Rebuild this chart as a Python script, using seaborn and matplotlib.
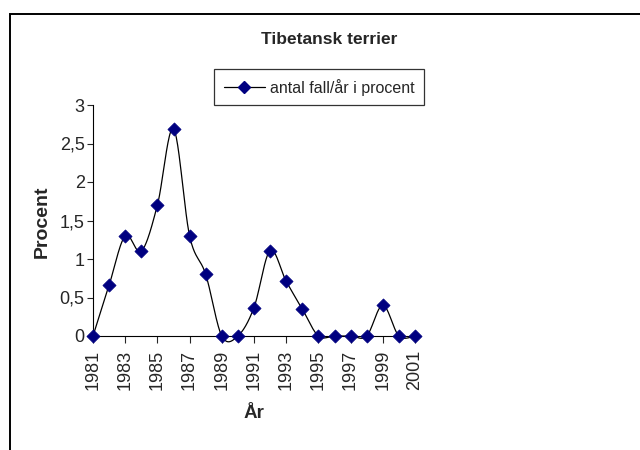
import numpy as np
import matplotlib
matplotlib.use('Agg')
import matplotlib.pyplot as plt
import matplotlib.patches as mpatches
from matplotlib.lines import Line2D
from matplotlib.ticker import FuncFormatter
import seaborn as sns

sns.set_style('white')
plt.rcParams['font.family'] = ['Liberation Sans', 'DejaVu Sans']

NAVY = '#000080'

# ── data ─────────────────────────────────────────────
years = [1981, 1982, 1983, 1984, 1985, 1986, 1987, 1988, 1989, 1990, 1991,
         1992, 1993, 1994, 1995, 1996, 1997, 1998, 1999, 2000, 2001]
procent = [0, 0.66, 1.30, 1.10, 1.70, 2.69, 1.30, 0.80, 0, 0, 0.37,
           1.11, 0.71, 0.35, 0, 0, 0, 0, 0.40, 0, 0]
x_labels = list(range(1981, 2002, 2))
y_ticks = [0, 0.5, 1, 1.5, 2, 2.5, 3]


def smooth(xs, ys, n=24):
    # Excel-style smoothed line (Bezier with 1/6 control points)
    xs = np.asarray(xs, float)
    ys = np.asarray(ys, float)
    px = np.concatenate([[xs[0]], xs, [xs[-1]]])
    py = np.concatenate([[ys[0]], ys, [ys[-1]]])
    out_x, out_y = [], []
    t = np.linspace(0, 1, n)
    for i in range(1, len(px) - 2):
        p0x, p1x, p2x, p3x = px[i - 1:i + 3]
        p0y, p1y, p2y, p3y = py[i - 1:i + 3]
        c1x, c1y = p1x + (p2x - p0x) / 6, p1y + (p2y - p0y) / 6
        c2x, c2y = p2x - (p3x - p1x) / 6, p2y - (p3y - p1y) / 6
        bx = (1 - t)**3 * p1x + 3 * (1 - t)**2 * t * c1x + 3 * (1 - t) * t**2 * c2x + t**3 * p2x
        by = (1 - t)**3 * p1y + 3 * (1 - t)**2 * t * c1y + 3 * (1 - t) * t**2 * c2y + t**3 * p2y
        out_x.extend(bx)
        out_y.extend(by)
    return np.array(out_x), np.array(out_y)


fig = plt.figure(figsize=(6.4, 4.5), dpi=100)
ax = fig.add_axes([93 / 640, 114 / 450, 322 / 640, 231 / 450])

sx, sy = smooth(years, procent)
sns.lineplot(x=sx, y=sy, ax=ax, color='black', linewidth=0.9, sort=False,
             estimator=None, clip_on=False)
sns.scatterplot(x=years, y=procent, ax=ax, marker='D', s=45, color=NAVY,
                edgecolor=NAVY, linewidth=0.5, clip_on=False, zorder=5)

ax.set_xlim(1981, 2001)
ax.set_ylim(0, 3)
ax.set_xticks(x_labels)
ax.set_xticklabels([str(y) for y in x_labels], rotation=90, fontsize=13)
ax.set_yticks(y_ticks)
ax.yaxis.set_major_formatter(FuncFormatter(lambda v, p: f'{v:g}'.replace('.', ',')))
ax.tick_params(axis='y', labelsize=13, length=4, width=0.8, direction='out',
               left=True, pad=2)
ax.tick_params(axis='x', length=5, width=0.8, direction='out', bottom=True, pad=5)
for s in ['top', 'right']:
    ax.spines[s].set_visible(False)
for s in ['left', 'bottom']:
    ax.spines[s].set_color('black')
    ax.spines[s].set_linewidth(0.8)
ax.set_xlabel('')
ax.set_ylabel('')
ax.grid(False)

fig.text(329 / 640, 1 - 40 / 450, 'Tibetansk terrier', ha='center', va='center',
         fontsize=12.5, fontweight='bold')
fig.text(42 / 640, 1 - 222 / 450, 'Procent', rotation=90, ha='center',
         va='center', fontsize=14, fontweight='bold')
fig.text(254 / 640, 1 - 414 / 450, 'År', ha='center', va='center',
         fontsize=13.5, fontweight='bold')

handle = Line2D([], [], color='black', linewidth=0.9, marker='D',
                markersize=6.5, markerfacecolor=NAVY, markeredgecolor=NAVY)
leg = fig.legend([handle], ['antal fall/år i procent'], loc='upper left',
                 bbox_to_anchor=(214 / 640, 1 - 69 / 450), fontsize=11.5,
                 frameon=True, fancybox=False, handlelength=2.6,
                 handletextpad=0.3, borderpad=0.6, borderaxespad=0)
leg.get_frame().set_edgecolor('black')
leg.get_frame().set_linewidth(0.9)

# chart area border (cropped at right and bottom)
fig.patches.append(mpatches.Rectangle((10 / 640, -0.1), 1.2, 1 - 13.5 / 450 + 0.1,
                                      transform=fig.transFigure, fill=False,
                                      edgecolor='black', linewidth=1.4))

fig.savefig('out.png', dpi=100)
